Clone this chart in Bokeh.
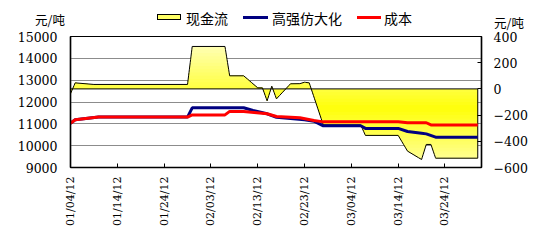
import numpy as np
from bokeh.plotting import figure
from bokeh.layouts import column
from bokeh.models import Range1d, LinearAxis, FixedTicker, Div
from bokeh.embed import file_html
from bokeh.resources import INLINE

# ---- data (x = days since 01/04/12) ----
x_ticks = [0, 10, 20, 30, 40, 50, 60, 70, 80]
x_labels = ["01/04/12", "01/14/12", "01/24/12", "02/03/12", "02/13/12",
            "02/23/12", "03/04/12", "03/14/12", "03/24/12"]
left_ticks = [9000, 10000, 11000, 12000, 13000, 14000, 15000]
right_ticks = [-600, -400, -200, 0, 200, 400]

cf_day = [0, 1, 5, 25, 26, 33, 34, 37, 40, 41, 42, 43, 44, 47, 49, 50, 51,
          54, 62, 63, 70, 72, 75, 76, 77, 78, 87]
cf_val = [-37, 46, 34, 34, 324, 324, 100, 100, 8, 8, -91, 21, -76, 39, 40, 51, 46,
          -275, -275, -355, -355, -475, -539, -424, -424, -529, -529]

blue_day = [0, 1, 6, 25, 26, 37, 39, 42, 44, 50, 52, 54, 62, 63, 70, 72, 75, 76, 78, 87]
blue_val = [11030, 11185, 11310, 11310, 11734, 11734, 11610, 11459, 11303, 11185,
            11120, 10910, 10910, 10790, 10790, 10650, 10570, 10540, 10390, 10390]

red_day = [0, 1, 6, 25, 26, 33, 34, 37, 42, 44, 49, 52, 54, 70, 72, 76, 77, 87]
red_val = [11030, 11185, 11310, 11310, 11410, 11410, 11570, 11570, 11460, 11335,
           11276, 11150, 11090, 11090, 11050, 11050, 10950, 10950]

series_names = ["现金流", "高强仿大化", "成本"]
unit = "元/吨"

BLUE = "#000080"
RED = "#ff0000"
serif = "DejaVu Serif"
cjk = "Noto Sans CJK SC"

# ---- main figure ----
p = figure(width=555, height=210, output_backend="svg", toolbar_location=None,
           x_range=Range1d(0, 87.8), y_range=Range1d(9000, 15000),
           min_border_left=70, min_border_right=74, min_border_top=6,
           min_border_bottom=73, background_fill_color="white",
           border_fill_color="white", outline_line_color="black",
           outline_line_width=1.2)
p.extra_y_ranges = {"cf": Range1d(-600, 400)}

p.xgrid.visible = False
p.ygrid.ticker = FixedTicker(ticks=left_ticks)
p.ygrid.grid_line_color = "#8c8c8c"
p.ygrid.grid_line_width = 1

ya = p.yaxis[0]
ya.ticker = FixedTicker(ticks=left_ticks)
ya.major_tick_in = 0
ya.major_tick_out = 0
ya.minor_tick_line_color = None
ya.axis_line_color = "black"
ya.axis_line_width = 1.5
ya.major_label_text_font = serif
ya.major_label_text_font_size = "12.5px"
ya.major_label_text_color = "black"
ya.major_label_standoff = 13

xa = p.xaxis[0]
xa.ticker = FixedTicker(ticks=x_ticks)
xa.major_label_overrides = {t: lab for t, lab in zip(x_ticks, x_labels)}
xa.major_label_orientation = np.pi / 2
xa.major_tick_in = 4
xa.major_tick_out = 0
xa.major_tick_line_color = "black"
xa.minor_tick_line_color = None
xa.axis_line_color = "black"
xa.axis_line_width = 1.5
xa.major_label_text_font = serif
xa.major_label_text_font_size = "11px"
xa.major_label_text_color = "black"
xa.major_label_standoff = 9

ra = LinearAxis(y_range_name="cf", ticker=FixedTicker(ticks=right_ticks))
ra.major_tick_in = 4
ra.major_tick_out = 0
ra.major_tick_line_color = "black"
ra.minor_tick_line_color = None
ra.axis_line_color = "black"
ra.axis_line_width = 1.5
ra.major_label_text_font = serif
ra.major_label_text_font_size = "12.5px"
ra.major_label_text_color = "black"
ra.major_label_standoff = 12
p.add_layout(ra, "right")

# ---- cash-flow area with vertical gradient ----
levels = np.arange(-800, 801, 25)


def refine(xs, ys, lv):
    ox, oy = [xs[0]], [ys[0]]
    for i in range(len(xs) - 1):
        x0, y0, x1, y1 = xs[i], ys[i], xs[i + 1], ys[i + 1]
        if y1 != y0:
            ts = sorted((l - y0) / (y1 - y0) for l in lv if (l - y0) * (l - y1) < 0)
            for t in ts:
                ox.append(x0 + t * (x1 - x0))
                oy.append(y0 + t * (y1 - y0))
        ox.append(x1)
        oy.append(y1)
    return np.array(ox, float), np.array(oy, float)


rx, ry = refine(cf_day, cf_val, levels)
center = -150.0
step = 25.0
for k in range(24, 0, -1):
    r = k * step
    lo, hi = center - r, center + r
    t = min(1.0, max(0.0, (r - step / 2) / 520.0))
    b = int(round(10 + t * 185))
    col = "#ffff%02x" % b
    y1 = np.clip(np.zeros_like(ry), lo, hi)
    y2 = np.clip(ry, lo, hi)
    if np.allclose(y1, y2):
        continue
    p.varea(x=rx, y1=y1, y2=y2, fill_color=col, y_range_name="cf")

ox = [cf_day[0]] + list(rx) + [cf_day[-1]]
oy = [0] + list(ry) + [0]
p.patch(x=ox, y=oy, fill_alpha=0, line_color="black", line_width=1,
        y_range_name="cf")

p.line(blue_day, blue_val, line_color=BLUE, line_width=3)
p.line(red_day, red_val, line_color=RED, line_width=3)

# ---- top strip: legend and unit labels (HTML) ----
def txt(s, left, cy, size):
    return (f'<span style="position:absolute;left:{left}px;top:{cy - size / 2 - 1}px;'
            f'font-size:{size}px;line-height:{size + 2}px;white-space:nowrap;color:#000;">{s}</span>')


def box(left, top_, w, h, css):
    return (f'<span style="position:absolute;left:{left}px;top:{top_}px;width:{w}px;'
            f'height:{h}px;{css}"></span>')


html = (f'<div style="position:relative;width:555px;height:30px;overflow:visible;'
        f'font-family:\'{cjk}\';background:#fff;">'
        + txt(unit, 35, 20, 12.5)
        + box(157, 14, 24, 6, "background:#ffff66;border:1px solid #000;")
        + txt(series_names[0], 186, 18, 14)
        + box(243, 16, 25, 3, f"background:{BLUE};")
        + txt(series_names[1], 272, 18, 14)
        + box(357, 16, 24, 3, f"background:{RED};")
        + txt(series_names[2], 384, 18, 14)
        + txt(unit, 494, 23, 12.5)
        + '</div>')
top = Div(text=html, width=555, height=30, margin=0)

layout = column(top, p, spacing=0)
open("out.html", "w").write(file_html(layout, INLINE))
